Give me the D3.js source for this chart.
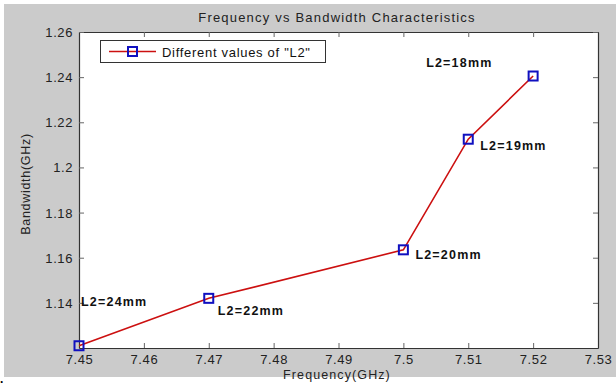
<!DOCTYPE html>
<html><head><meta charset="utf-8">
<script src="https://cdn.jsdelivr.net/npm/d3@7"></script>
<style>body{margin:0;background:#fff}svg{display:block}text{font-family:"Liberation Sans",Arial,sans-serif}</style>
</head><body>
<script>
const freq = [7.45, 7.47, 7.50, 7.51, 7.52];
const bandwidth = [1.121, 1.142, 1.1635, 1.2125, 1.2405];
const pointLabels = ["L2=24mm", "L2=22mm", "L2=20mm", "L2=19mm", "L2=18mm"];
const xTicks = [7.45, 7.46, 7.47, 7.48, 7.49, 7.50, 7.51, 7.52, 7.53];
const yTicks = [1.14, 1.16, 1.18, 1.20, 1.22, 1.24, 1.26];
const legendText = 'Different values of "L2"';
const titleText = "Frequency vs Bandwidth Characteristics";

const W = 616, H = 385;
const m = {l: 79, r: 598, t: 32, b: 348};
const svg = d3.select("body").append("svg").attr("width", W).attr("height", H);
svg.append("rect").attr("x", 4).attr("y", 4).attr("width", W - 4).attr("height", 373).attr("fill", "#cbcbcb");
svg.append("text").attr("x", 0).attr("y", 383).attr("font-size", 12).attr("font-weight", "bold").text(".");

const x = d3.scaleLinear().domain([7.45, 7.53]).range([m.l, m.r]);
const y = d3.scaleLinear().domain([1.12, 1.26]).range([m.b, m.t]);

svg.append("rect").attr("x", m.l).attr("y", m.t).attr("width", m.r - m.l).attr("height", m.b - m.t)
  .attr("fill", "#fff");

const fmt = d => String(+d.toFixed(2));
const tickLen = 5;
const xb = svg.append("g").attr("transform", `translate(0,${m.b})`)
  .call(d3.axisBottom(x).tickValues(xTicks).tickFormat(fmt).tickSizeInner(-tickLen).tickSizeOuter(0).tickPadding(7));
const xt = svg.append("g").attr("transform", `translate(0,${m.t})`)
  .call(d3.axisTop(x).tickValues(xTicks).tickFormat("").tickSizeInner(-tickLen).tickSizeOuter(0));
const yl = svg.append("g").attr("transform", `translate(${m.l},0)`)
  .call(d3.axisLeft(y).tickValues(yTicks).tickFormat(fmt).tickSizeInner(-tickLen).tickSizeOuter(0).tickPadding(6));
const yr = svg.append("g").attr("transform", `translate(${m.r},0)`)
  .call(d3.axisRight(y).tickValues(yTicks).tickFormat("").tickSizeInner(-tickLen).tickSizeOuter(0));
[xb, xt, yl, yr].forEach(g => {
  g.select(".domain").attr("stroke", "#333").attr("stroke-width", 1.2);
  g.selectAll(".tick line").attr("stroke", "#666");
  g.selectAll(".tick text").attr("font-size", 13).attr("fill", "#222")
    .attr("font-family", '"Liberation Sans",Arial,sans-serif').attr("letter-spacing", "0.6px");
});
yl.selectAll(".tick text").attr("dy", "0.35em");

const pts = freq.map((f, i) => ({f, b: bandwidth[i], lab: pointLabels[i]}));
svg.append("path").datum(pts)
  .attr("d", d3.line().x(d => x(d.f)).y(d => y(d.b)))
  .attr("fill", "none").attr("stroke", "#cc1010").attr("stroke-width", 1.6);
svg.selectAll("rect.mk").data(pts).enter().append("rect").attr("class", "mk")
  .attr("x", d => x(d.f) - 4.5).attr("y", d => y(d.b) - 4.5).attr("width", 9).attr("height", 9)
  .attr("fill", "none").attr("stroke", "#1010c0").attr("stroke-width", 2);

const labOff = [[2, -40], [9, 17], [12, 9], [12, 11], [-107, -9]];
svg.selectAll("text.pl").data(pts).enter().append("text").attr("class", "pl")
  .attr("x", (d, i) => x(d.f) + labOff[i][0])
  .attr("y", (d, i) => y(d.b) + labOff[i][1])
  .attr("font-size", 12.5).attr("font-weight", "bold").attr("fill", "#111")
  .attr("letter-spacing", "1.2px")
  .text(d => d.lab);

svg.append("rect").attr("x", 100.5).attr("y", 40.5).attr("width", 225).attr("height", 22)
  .attr("fill", "#fff").attr("stroke", "#333").attr("stroke-width", 1);
svg.append("line").attr("x1", 109).attr("x2", 156).attr("y1", 51.5).attr("y2", 51.5)
  .attr("stroke", "#cc1010").attr("stroke-width", 1.6);
svg.append("rect").attr("x", 128).attr("y", 47).attr("width", 9).attr("height", 9)
  .attr("fill", "none").attr("stroke", "#1010c0").attr("stroke-width", 2);
svg.append("text").attr("x", 162).attr("y", 56.5).attr("font-size", 13).attr("fill", "#111")
  .attr("letter-spacing", "0.7px").text(legendText);

svg.append("text").attr("x", 337).attr("y", 22).attr("text-anchor", "middle")
  .attr("font-size", 13).attr("fill", "#222").attr("letter-spacing", "1.2px").text(titleText);
svg.append("text").attr("x", 337).attr("y", 378.5).attr("text-anchor", "middle")
  .attr("font-size", 12.5).attr("fill", "#222").attr("letter-spacing", "1.1px").text("Frequency(GHz)");
svg.append("text").attr("transform", `translate(30,184) rotate(-90)`).attr("text-anchor", "middle")
  .attr("font-size", 12.5).attr("fill", "#222").attr("letter-spacing", "0.7px").text("Bandwidth(GHz)");
</script>
</body></html>
